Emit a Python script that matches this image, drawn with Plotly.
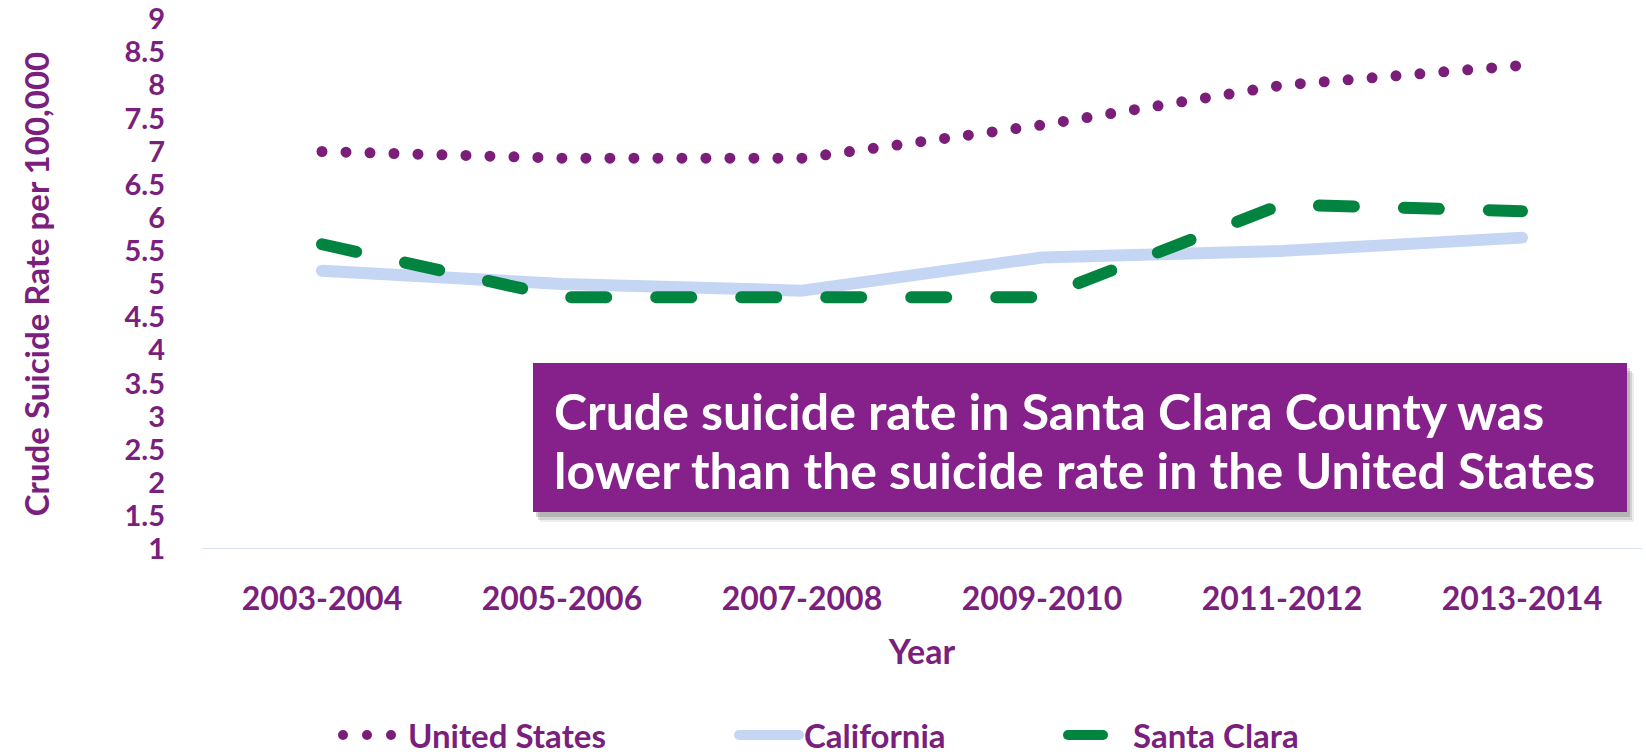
import plotly.graph_objects as go

# Crude suicide rate per 100,000, two-year periods
years = ["2003-2004", "2005-2006", "2007-2008", "2009-2010", "2011-2012", "2013-2014"]
united_states = [7.0, 6.9, 6.9, 7.4, 8.0, 8.3]
california = [5.2, 5.0, 4.9, 5.4, 5.5, 5.7]
santa_clara = [5.6, 4.8, 4.8, 4.8, 6.2, 6.1]

y_tick_values = [1, 1.5, 2, 2.5, 3, 3.5, 4, 4.5, 5, 5.5, 6, 6.5, 7, 7.5, 8, 8.5, 9]
y_tick_labels = ["1", "1.5", "2", "2.5", "3", "3.5", "4", "4.5", "5",
                 "5.5", "6", "6.5", "7", "7.5", "8", "8.5", "9"]

PURPLE = "#7A1F7D"
DOT_PURPLE = "#7B1E7A"
LIGHT_BLUE = "#C4D6F3"
GREEN = "#00843F"
BOX_PURPLE = "#86218B"
FONT = "Lato"

W, H = 1646, 755
L, R, T, B = 202, 4, 19, 206
plot_w = W - L - R
plot_h = H - T - B


def px_x(px):
    return (px - L) / plot_w


def px_y(py):
    return (H - B - py) / plot_h


fig = go.Figure()

fig.add_trace(go.Scatter(
    x=years, y=united_states, name="United States", mode="lines",
    line=dict(color=DOT_PURPLE, width=11, dash="0px,24px"),
    legend="legend",
))
fig.add_trace(go.Scatter(
    x=years, y=california, name="California", mode="lines",
    line=dict(color=LIGHT_BLUE, width=12),
    legend="legend2",
))
fig.add_trace(go.Scatter(
    x=years, y=santa_clara, name="Santa Clara", mode="lines",
    line=dict(color=GREEN, width=12, dash="35px,50px"),
    legend="legend3",
))

legend_font = dict(family=FONT, size=33, color=PURPLE, weight="bold")
legend_common = dict(orientation="h", yanchor="middle", xanchor="left",
                     font=legend_font, bgcolor="rgba(0,0,0,0)", itemwidth=60)

# Callout box with a soft drop shadow
x0, x1 = px_x(533), px_x(1627)
y0, y1 = px_y(512), px_y(363)
shapes = []
for dx, dy, op in [(7, 10, 0.10), (5, 8, 0.18), (3, 5, 0.25)]:
    shapes.append(dict(type="rect", xref="paper", yref="paper",
                       x0=x0 + dx / plot_w, x1=x1 + dx / plot_w,
                       y0=y0 - dy / plot_h, y1=y1 - dy / plot_h,
                       fillcolor=f"rgba(90,90,90,{op})", line=dict(width=0), layer="above"))
shapes.append(dict(type="rect", xref="paper", yref="paper",
                   x0=x0, x1=x1, y0=y0, y1=y1,
                   fillcolor=BOX_PURPLE, line=dict(width=0), layer="above"))

box_font = dict(family=FONT, size=50, color="white", weight="bold")
annotations = [
    dict(text="Crude suicide rate in Santa Clara County was", xref="paper", yref="paper",
         x=px_x(552), y=px_y(411), xanchor="left", yanchor="middle",
         showarrow=False, font=box_font),
    dict(text="lower than the suicide rate in the United States", xref="paper", yref="paper",
         x=px_x(552), y=px_y(470), xanchor="left", yanchor="middle",
         showarrow=False, font=box_font),
]

fig.update_layout(
    width=W, height=H,
    margin=dict(l=L, r=R, t=T, b=B, autoexpand=False),
    paper_bgcolor="white", plot_bgcolor="white",
    font=dict(family=FONT, color=PURPLE),
    showlegend=True,
    legend=dict(x=px_x(338), y=px_y(735), **legend_common),
    legend2=dict(x=px_x(734), y=px_y(735), **legend_common),
    legend3=dict(x=px_x(1063), y=px_y(735), **legend_common),
    shapes=shapes,
    annotations=annotations,
    xaxis=dict(
        type="category", categoryorder="array", categoryarray=years,
        range=[-0.5, len(years) - 0.5],
        showgrid=False, zeroline=False,
        showline=False, ticks="",
        ticklabelstandoff=28,
        tickfont=dict(family=FONT, size=32, color=PURPLE, weight="bold"),
        title=dict(text="Year", standoff=24,
                   font=dict(family=FONT, size=34, color=PURPLE, weight="bold")),
        automargin=False,
    ),
    yaxis=dict(
        range=[1, 9], tickvals=y_tick_values, ticktext=y_tick_labels,
        showgrid=False, zeroline=True, zerolinecolor=LIGHT_BLUE,
        showline=False, ticks="",
        ticklabelstandoff=36, ticklabeloverflow="allow",
        tickfont=dict(family=FONT, size=29, color=PURPLE, weight="bold"),
        title=dict(text="Crude Suicide Rate per 100,000", standoff=64,
                   font=dict(family=FONT, size=33, color=PURPLE, weight="bold")),
        automargin=False,
    ),
)

# Baseline along y = 1
fig.add_shape(type="line", xref="paper", yref="y", x0=0, x1=1, y0=1, y1=1,
              line=dict(color="#D6E0F3", width=2), layer="below")

# Round line caps so dotted and dashed strokes get rounded ends
post = """
var gd = document.getElementById('{plot_id}');
function roundCaps() {
  gd.querySelectorAll('.scatterlayer .js-line, .legendlines path').forEach(function(p) {
    p.style.strokeLinecap = 'round';
    p.style.strokeLinejoin = 'round';
  });
}
roundCaps();
gd.on('plotly_afterplot', roundCaps);
"""

fig.write_html("out.html", post_script=post)
